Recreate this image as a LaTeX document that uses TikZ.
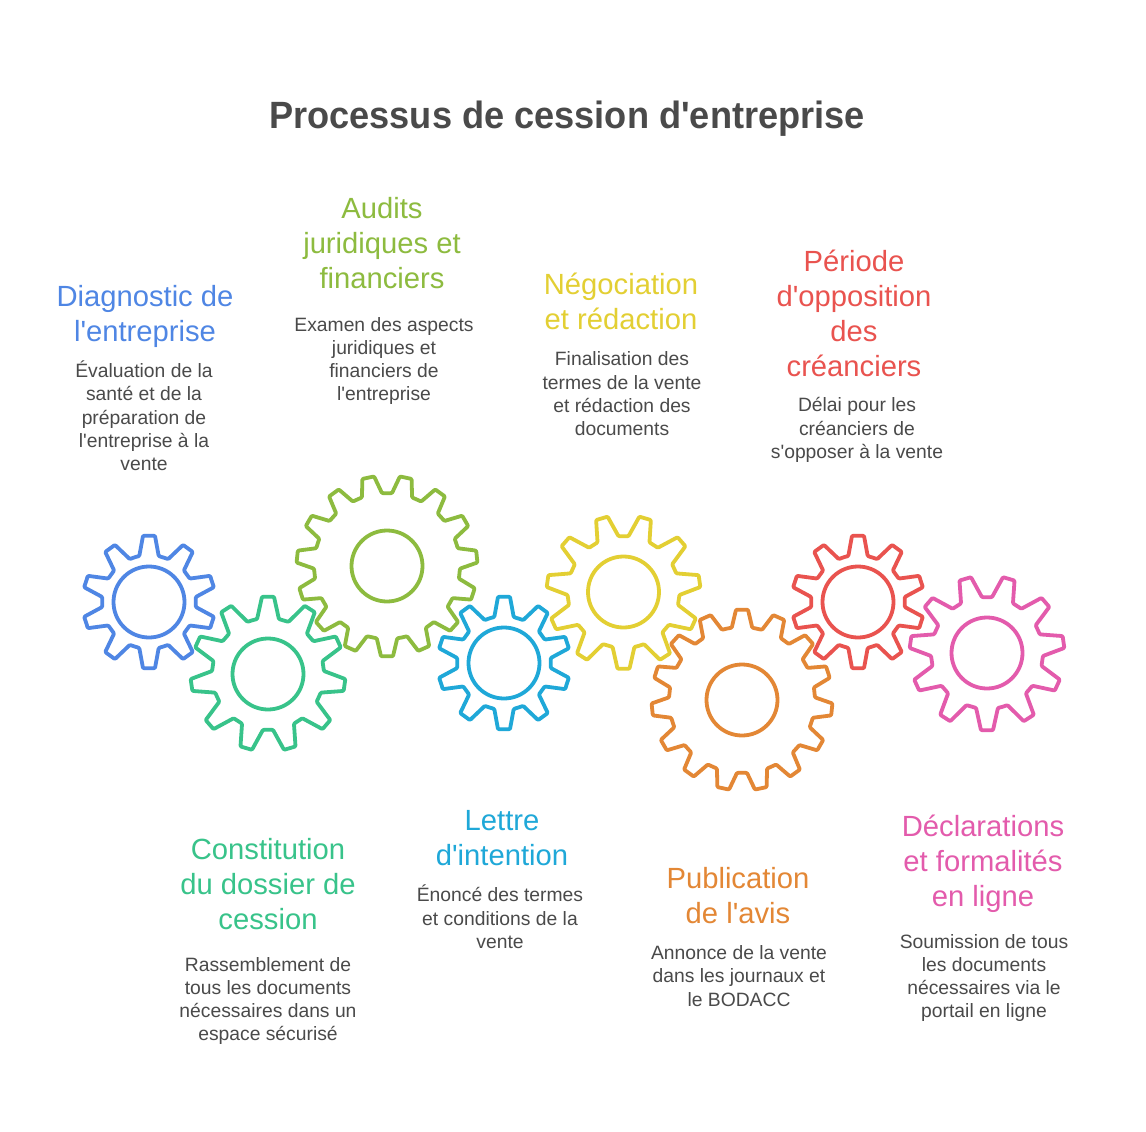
\documentclass[tikz,border=0pt]{standalone}
\usepackage{fontspec}
\setmainfont{Liberation Sans}[Ligatures=TeXOff]

\definecolor{blueg}{HTML}{4F86E4}
\definecolor{greeng}{HTML}{38C38A}
\definecolor{oliveg}{HTML}{8DBB3F}
\definecolor{cyang}{HTML}{1FA8D8}
\definecolor{yellowg}{HTML}{E3CF33}
\definecolor{orangeg}{HTML}{E38735}
\definecolor{redg}{HTML}{E9534F}
\definecolor{pinkg}{HTML}{E35BAC}
\definecolor{greytext}{HTML}{4A4A4A}

\tikzset{
  title/.style={inner sep=0pt,text=greytext,font=\fontsize{38}{44}\selectfont\bfseries\addfontfeature{FakeStretch=0.952}},
  heading/.style={inner sep=0pt,align=center,font=\fontsize{29.2}{35}\selectfont},
  bodytext/.style={inner sep=0pt,align=center,text=greytext,font=\fontsize{19.3}{23.3}\selectfont},
  gearline/.style={line width=3.8pt,line join=round,rounded corners=1pt}
}

% args: centre x, centre y, teeth, outer radius, root radius, rotation, colour
\newcommand{\gear}[7]{
  \pgfmathsetmacro{\pitch}{360/#3}
  \pgfmathsetmacro{\tiphalf}{6/#4*57.3}
  \pgfmathsetmacro{\roothalf}{\pitch/2-5/#5*57.3}
  \begin{scope}[shift={(#1,#2)},rotate=#6]
    \draw [gearline,draw=#7] ({-\pitch/2}:#5)
      \foreach \i in {1,...,#3} {
        -- ({(\i-1)*\pitch-\roothalf}:#5)
        -- ({(\i-1)*\pitch-\tiphalf}:#4) -- ({(\i-1)*\pitch+\tiphalf}:#4)
        -- ({(\i-1)*\pitch+\roothalf}:#5)
      } -- cycle;
    \draw [line width=3.8pt,draw=#7] (0,0) circle [radius=35.5];
  \end{scope}
}

\begin{document}
\begin{tikzpicture}[x=1pt,y=-1pt]
  \fill [white] (0,0) rectangle (1146,1132);
  \useasboundingbox (0,0) rectangle (1146,1132);

  \node [title] (maintitle) at (567,119) {Processus de cession d'entreprise};

  \gear{149}{602}{10}{66.5}{47}{90}{blueg}
  \gear{268}{674}{11}{77.5}{56}{90}{greeng}
  \gear{387}{566}{15}{90.5}{73}{-90}{oliveg}
  \gear{504}{663}{10}{66.5}{47}{90}{cyang}
  \gear{623.5}{592}{11}{77}{56}{-90}{yellowg}
  \gear{742}{700}{15}{90.5}{73}{90}{orangeg}
  \gear{858}{602}{10}{66.5}{47}{90}{redg}
  \gear{987}{653}{11}{77.5}{56}{-90}{pinkg}

  \node [heading,text=blueg] (diag) at (145,316) {Diagnostic de\\l'entreprise};
  \node [bodytext] (diagtext) at (144,416) {Évaluation de la\\santé et de la\\préparation de\\l'entreprise à la\\vente};

  \node [heading,text=oliveg] (audit) at (382,243) {Audits\\juridiques et\\financiers};
  \node [bodytext] (audittext) at (384,361) {Examen des aspects\\juridiques et\\financiers de\\l'entreprise};

  \node [heading,text=yellowg] (nego) at (621,301) {Négociation\\et rédaction};
  \node [bodytext] (negotext) at (622,394) {Finalisation des\\termes de la vente\\et rédaction des\\documents};

  \node [heading,text=redg] (oppo) at (854,313) {Période\\d'opposition\\des\\créanciers};
  \node [bodytext] (oppotext) at (857,430) {Délai pour les\\créanciers de\\s'opposer à la vente};

  \node [heading,text=greeng] (dossier) at (268,884) {Constitution\\du dossier de\\cession};
  \node [bodytext] (dossiertext) at (268,1001) {Rassemblement de\\tous les documents\\nécessaires dans un\\espace sécurisé};

  \node [heading,text=cyang] (lettre) at (502,838) {Lettre\\d'intention};
  \node [bodytext] (lettretext) at (500,917) {Énoncé des termes\\et conditions de la\\vente};

  \node [heading,text=orangeg] (avis) at (738,896) {Publication\\de l'avis};
  \node [bodytext] (avistext) at (739,976) {Annonce de la vente\\dans les journaux et\\le BODACC};

  \node [heading,text=pinkg] (decl) at (983,864) {Déclarations\\et formalités\\en ligne};
  \node [bodytext] (decltext) at (984,978) {Soumission de tous\\les documents\\nécessaires via le\\portail en ligne};
\end{tikzpicture}
\end{document}
